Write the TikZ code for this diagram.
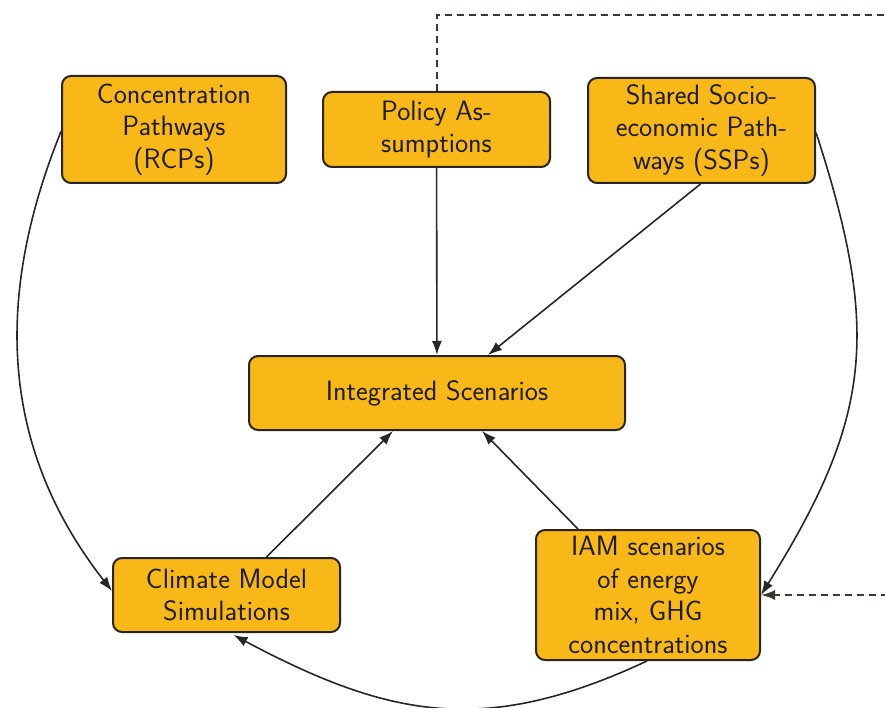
\documentclass[tikz,border=0pt]{standalone}
\usetikzlibrary{arrows.meta,calc}
\definecolor{boxfill}{RGB}{248,184,24}
\definecolor{boxline}{RGB}{40,36,30}
\definecolor{txt}{RGB}{30,28,24}
\definecolor{dashcol}{RGB}{60,55,50}
\tikzset{
  pbox/.style={draw=boxline, fill=boxfill, line width=2pt, rounded corners=9pt,
    inner sep=0pt, align=center, text=txt,
    font=\sffamily\fontsize{28}{32.5}\selectfont},
  arr/.style={draw=black!85, line width=1.6pt, -{Latex[length=14pt,width=10pt]}},
  dashline/.style={draw=dashcol, line width=2pt, dash pattern=on 7pt off 5pt,
    -{Latex[length=14pt,width=10pt]}}
}
\begin{document}
\begin{tikzpicture}[x=1pt,y=-1pt]
\useasboundingbox (0,0) rectangle (885,708);
\node[pbox, minimum width=224pt, minimum height=107pt] (conc) at (174,129.5)
  {Concentration\\Pathways\\(RCPs)};
\node[pbox, minimum width=227pt, minimum height=75pt] (policy) at (436.5,129.5)
  {Policy As-\\sumptions};
\node[pbox, minimum width=227pt, minimum height=105pt] (ssp) at (701.5,130.5)
  {Shared Socio-\\economic Path-\\ways (SSPs)};
\node[pbox, minimum width=376pt, minimum height=74pt] (integ) at (437,393)
  {Integrated Scenarios};
\node[pbox, minimum width=227pt, minimum height=74pt] (climate) at (226.5,595)
  {Climate Model\\Simulations};
\node[pbox, minimum width=224pt, minimum height=130pt] (iam) at (648,595)
  {IAM scenarios\\of energy\\mix, GHG\\concentrations};

\coordinate (d1) at (0,15);
\coordinate (d2) at (892,15);

\draw[arr] (policy) -- (integ);
\draw[arr] ($(ssp.south)+(-1,0)$) -- ($(integ.north)+(51,0)$);
\draw[arr] ($(climate.north)+(40,0)$) -- ($(integ.south)+(-44,0)$);
\draw[arr] ($(iam.north)+(-70,0)$) -- ($(integ.south)+(45,0)$);

\draw[arr] ($(conc.west)+(0,2)$) to[out=248,in=128,looseness=1.0] ($(climate.west)+(0,-4)$);
\draw[arr] ($(ssp.east)+(0,2)$) to[out=288,in=58,looseness=1.15] (iam.east);
\draw[arr] ($(iam.south)+(-1,0)$) to[out=205,in=-28,looseness=1.1] ($(climate.south)+(7,2)$);

\draw[dashline] (policy.north) -- (policy.north |- d1) -- (d2) -- (d2 |- iam.east) -- (iam.east);
\end{tikzpicture}
\end{document}
